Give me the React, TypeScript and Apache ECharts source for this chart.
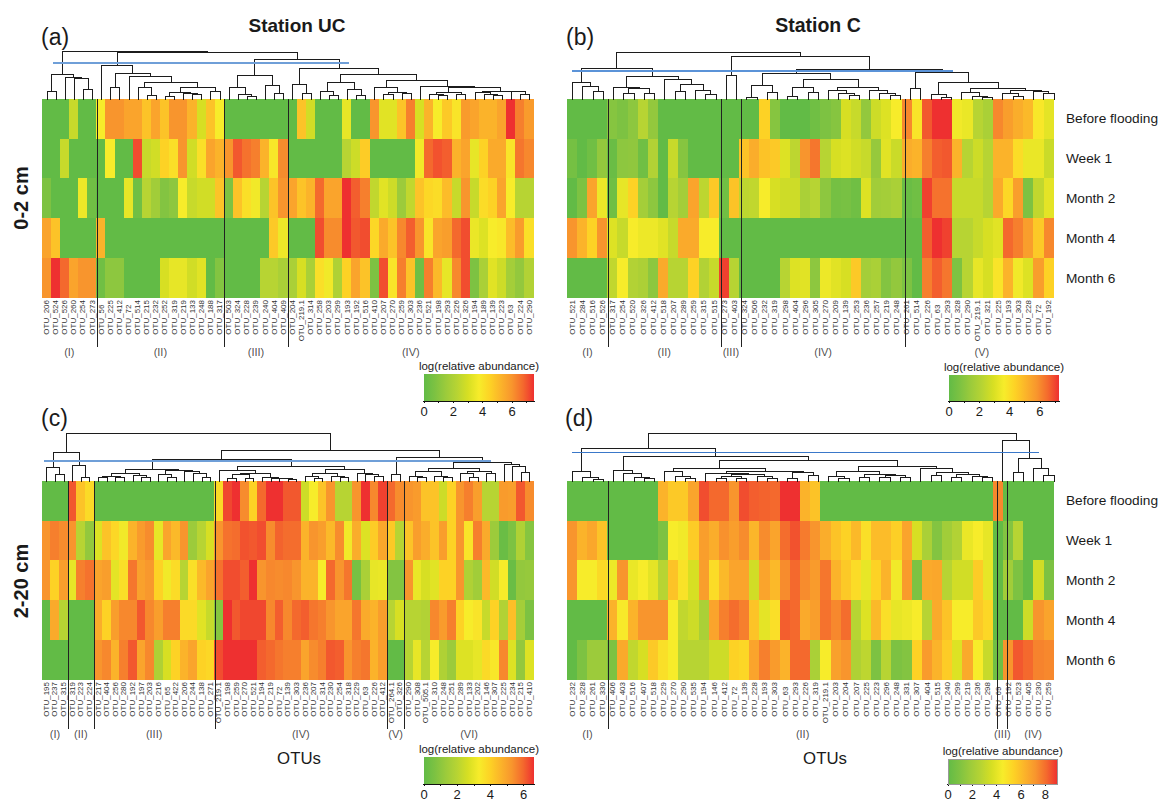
import React, { useEffect, useRef } from "react";
import * as echarts from "echarts";

const FONT = '"Liberation Sans", Arial, sans-serif';
const rows = ["Before flooding", "Week 1", "Month 2", "Month 4", "Month 6"];
const palette = ["#62bb46", "#7dc242", "#9ccb3b", "#b7d433", "#d7df23", "#f7ec2a", "#fdd225", "#fbb32a", "#f8952d", "#f4692d", "#ee3030"];

// ---- Panel (a) ----
const aOtus = ["206","524","526","260","254","273","56","225","412","72","514","215","232","252","319","219","133","248","188","317","503","324","228","239","240","404","409","204","219.1","314","258","203","299","193","192","516","410","207","270","259","303","236","521","198","293","226","326","194","189","139","223","63","224","290"];
const aClusters: [string, number][] = [["(I)", 6], ["(II)", 14], ["(III)", 7], ["(IV)", 27]];
// colour level per OTU for the five rows, 0 (green) .. 10 (red) of the colour bar
const aLevels = [
[0,0,1,7.5,8],[0,0,0,6.5,10],[0,3.5,0,0,9],[3.5,0,0,0,7.5],[0,0,4.7,0,8],[0,0,0.5,0,8],
[5,0,0,7,0.5],[8,5,0,0,1.5],[8,0,0,0,1.5],[7.5,0,4.5,0,0],[7.5,9.5,0.5,0,0],[6.5,3.5,3,0,0],[7.5,3.8,2.2,0,0],[6.5,6,1.2,0,4],[8,5.5,1.5,0,4.5],[8,8,5,0,4.5],[7,3.8,3.5,0,3.8],[4,5.5,3.8,0,4.3],[6.5,7.5,3.8,0,0],[5,7,6.5,0,1.2],
[0,8,1,0,0],[0,9.3,6.5,0,0],[0,8.8,5.5,0,0],[0,8.5,4.8,0,0],[0,7,3,0,3],[0,5.2,6.5,6.3,3],[0,8.2,8,4.7,2.5],
[0,0,7.5,0,2.5],[6.5,0,6.5,0,4],[3.8,0,7,0,2.5],[0,0,9,9.5,5.5],[0,0,7.5,8.2,4.8],[0,0,7.5,8.2,2.7],[4.5,3,10,10,6],[0,3.7,9.2,9.3,7.5],[0,6.2,8.5,9.5,6.5],[8,0,3.3,5.8,1],[4.3,0,4.3,7.3,9.5],[4.3,0,3.7,6.5,5.3],[6.5,0,2,8.3,8.5],[8.5,0,3.3,9.2,6.5],[4,4.8,6.5,8,0.5],[7,9,5.8,5.3,8.5],[5,9.4,5.6,7.5,6.8],[6.3,9.2,6.7,7.7,4.5],[5.3,7,3.5,9,8.3],[7.8,7.5,8,9.5,9.5],[7.5,4.5,3.5,4.6,1],[7,6,5.6,4.2,2.5],[7,7.3,6,5,4.3],[7.5,7.3,7.5,5.2,3.7],[10,5.3,5,6.7,2.3],[8.5,8.7,3,7.8,1.7],[7.8,8.3,3,5.5,2.8],
];
const aTree = [48,
  [25,[8,0,0],[22,0,[21,0,[10,0,0]]]],
  [47,
    [34,0,[26,[12,0,0],[23,0,[17,[12,0,[4,0,0]],[12,[7,[3,0,0],[6,0,[5,0,0]]],[8,0,0]]]]]],
    [40,
      [24,[12,0,[5,0,[3,0,0]]],[14,0,[6,0,0]]],
      [31,[15,0,[6,0,0]],[25,[17,[8,0,[4,0,0]],[10,0,[4,0,0]]],[19,[12,0,[7,[5,0,0],[6,0,0]]],[13,0,[12,[7.5,[5,0,[4,0,0]],[5,0,0]],[8.5,[7,0,[5.5,0,[4,0,0]]],[8,0,[5,0,0]]]]]]]],
    ],
  ],
];

// ---- Panel (b) ----
const bOtus = ["521","284","516","526","317","254","520","326","412","518","207","289","259","315","515","273","403","324","506","232","319","298","404","296","305","270","209","139","253","236","257","219","248","261","514","226","63","293","328","290","219.1","321","225","193","303","228","72","192"];
const bClusters: [string, number][] = [["(I)", 4], ["(II)", 11], ["(III)", 2], ["(IV)", 16], ["(V)", 15]];
const bLevels = [
[0,0.7,0,8,0],[0,0,1,7,0],[0,0.5,7.5,6,0],[0,1.7,4.7,8,0],
[1.3,0.3,0.5,4.2,3.3],[1,1.5,4.5,3.5,5],[1.5,1.6,6,5,2.8],[3,0.5,2.3,4.7,2.6],[1.7,2.8,1.5,4.7,1.5],[0,0,0,4.3,7.3],[0,3.5,3,3.5,3],[0,1.3,2.3,7.3,3],[0,0,7.5,7.3,6],[0,0,3.2,5,2.8],[0,0,6.3,5,3.5],
[0,0,0.5,0,9.7],[0,0,6.5,0,3],
[0,6.5,3.2,0,0],[0,7.2,3.3,0,0],[6,6.5,5,0,0],[1.3,6.3,4,0,0],[0,4.2,3.7,0,3],[0,3.2,3.7,0,4.2],[0,8,2.5,0,4.3],[0.5,8.7,3,0,1.5],[1,3,1.5,0,4.7],[1.3,4,0.7,0,4.3],[4,4.2,0.8,0,4],[3.5,3.8,0.5,0,6.3],[1.7,3.5,4.2,0,2.3],[3.7,1.8,2.2,0,2.5],[4.2,4.3,2.3,0,1.2],[5,3.6,2.5,0,1.7],
[8.3,7.2,0.3,0,1],[5.3,7,0.5,0,0],[9.3,8.5,9.7,9.2,8.5],[10,9.2,8.8,10,9.2],[10,9.3,8.8,9.7,8.7],[4.8,7,3.5,3,1],[4.6,3,3.5,3,3],[3,3.7,3.5,3.5,4.5],[2.5,3,3,4,4],[8.3,7,7.3,4.3,5.3],[7.7,7,5.8,9,7],[7.2,5.6,7.7,8.5,4.8],[6.8,4.6,1,7.7,4.2],[5.2,4.6,3.3,6.3,7.7],[4.4,3.6,4.4,8.3,6],
];
const bTree = [47,
  [31,[17,0,[13,0,[8,0,0]]],[23,[12,0,[11,[6,0,0],[6,0,0]]],[20,0,[15,[8,0,0],[9,0,[5,0,0]]]]]],
  [43,
    [24,0,0],
    [30,
      [25.7,[14,[2.5,0,0],[7,0,0]],[20,[12,[3.5,0,0],[7,0,0]],[12.5,[9,0,[6,0,[4,0,0]]],[9,0,[6.5,0,[4,0,0]]]]]],
      [27,[11,0,0],[17,[5,0,[2.5,0,0]],[11.5,[7.5,0,[3.5,0,[2.5,0,0]]],[9,[6,0,[3.5,0,0]],[8,0,[6,0,0]]]]]],
    ],
  ],
];

// ---- Panel (c) ----
const cOtus = ["195","237","315","319","223","224","217","404","256","280","192","197","203","216","65","422","206","244","138","271","219.1","198","259","270","521","194","219","72","139","303","236","207","314","230","254","318","229","63","226","412","264.1","326","290","308","505.1","310","248","251","289","133","202","146","307","225","234","215","410"];
const cClusters: [string, number][] = [["(I)", 3], ["(II)", 3], ["(III)", 14], ["(IV)", 20], ["(V)", 2], ["(VI)", 15]];
const cLevels = [
[0,8,8,0,0],[0,8.5,6,7.3,0],[0,8.2,7.7,3,0],
[9.3,8,4.5,0,0],[6.5,3,8.5,0,0],[5.7,1.7,8.8,0,0],
[0,4.2,7.5,7.2,8],[0,6.5,7.7,6,8.3],[0,5.8,4.4,7.7,7],[0,4.8,5.5,8.3,8.5],[0,7,8.7,8.3,9.3],[0,7.8,7.6,9.3,7.5],[0,8.2,7.9,8.3,8.3],[0,4.5,6,7.7,2.7],[0,7.5,4.8,8.5,4],[0,6.8,5.6,8.5,6],[0,8,3,5.7,7],[0,2,5.5,5.7,7.5],[0,3,6.8,4.3,6],[0,4,7.5,3.5,5.8],
[5.7,8,8.8,1.3,9.5],[9.6,8.8,9.5,10,10],[10,8.9,9.5,9.3,10],[8.2,9.4,9.2,9.6,10],[6,9.3,10,9.6,10],[9,9.5,8,9.6,9.2],[10,8.2,8.3,8.3,9],[10,9.1,8.2,9.2,8.7],[9.3,8.9,8.3,8.3,8.5],[9.3,8.9,8,9,8.5],[3.7,7,7,9.2,7.5],[5,8,7,8.7,8.2],[6.5,7.7,5,8.5,8.5],[8,6.8,9,8,9.3],[3,8.2,8,7.5,9.2],[3,4.8,8.7,7.5,8],[8,7.2,0.8,8.7,8.5],[10,4.2,2.5,7.3,8.7],[8.3,6.2,4.5,7,7],[9.7,7.4,4.6,7.7,7.7],
[9,6.3,1.2,3,0],[8.2,3,1.2,4,0],
[8,6.5,8,3,3],[7.8,7.7,4.6,3,4.5],[6.5,7.2,4,2.8,3],[6.5,6.5,4.3,8.3,5],[3.7,7.7,6,7.8,2.7],[6,6,6,8.5,2],[8,8,8,6,4.2],[8.5,5.3,2.7,5,4.2],[7.7,8.5,2.2,5.3,4.5],[3,7.3,6.8,3.5,5.7],[3,2,3.8,6,5.2],[7.8,0.3,5,2.8,8.3],[7.7,1,0.3,6.6,4.2],[9.3,2.7,1.7,2.3,1.7],[8.2,1.3,1.8,1,4.2],
];
const cTree = [47.7,
  [29,[14,0,[6.7,0,0]],[16,0,[3.7,0,0]]],
  [31,
    [22,
      [12,[8,[5,[3.7,0,0],[4.3,0,0]],[6,0,[4.3,0,0]]],[11,[7,0,[3.7,0,0]],[10,0,[7.7,0,[3.7,0,0]]]]],
      [15.3,[11,0,[8.3,[6.7,[3.3,0,0],[3.3,0,0]],[4.3,0,[3.3,0,[2.7,0,[2,0,0]]]]]],[11.7,[7.7,[5,0,[3.3,0,0]],[5,0,[4.3,0,0]]],[8.3,0,[7,0,[5,0,0]]]]],
    ],
    [23.7,
      [7,0,0],
      [19,[12.7,[10,[5,0,[3.7,0,0]],[5,0,[4.3,0,0]]],[10,[7.7,0,[4.3,0,0]],[7.7,0,0]]],[17,0,[15,0,[8.7,0,0]]]],
    ],
  ],
];

// ---- Panel (d) ----
const dOtus = ["232","328","261","330","406","403","516","407","518","229","270","290","535","194","146","412","72","139","228","193","303","63","293","226","319","219.1","203","204","207","225","223","296","248","331","307","404","515","240","299","219","236","298","69","192","523","405","230","259"];
const dClusters: [string, number][] = [["(I)", 4], ["(II)", 38], ["(III)", 1], ["(IV)", 5]];
const dLevels = [
[0,8,8,0,0],[0,7,5,0,1],[0,7.4,5,0,2],[0,6.5,5.7,0,2],
[0,0,4.7,7,1],[0,0,8,5.1,7.3],[0,0,4.6,7,3.3],[0,0,5,8,4],[0,0,4.4,8,6.3],[7,1,3,8,5.5],[6.3,5,6.5,5,5],[6.3,4.8,5.4,3.3,3],[7.5,6.2,4,3.7,3],[9.5,7.7,7.7,2.5,3],[9,7.2,5.6,7.5,3.7],[9,8.1,6.8,8.5,3.7],[8,7.7,7.5,8.9,6],[9.5,8.2,7.5,8.5,5.8],[9.2,6.9,3.8,6.5,7.5],[9.1,8.2,7.5,4.4,8.5],[9,7.5,6.8,5.5,7.8],[10,8.9,8.2,9.2,7],[10,9.4,9,9,9],[7,8.6,8.2,7.3,9],[6.5,8,7.8,7.7,2.5],
[0,7.2,8.7,8.8,5],[0,6.5,7,8.3,7.6],[0,6,6.3,8.9,8],[0,6.8,5.6,3,2.7],[0,5.5,4.5,4.2,3.2],[0,6.7,6,6.8,1],[0,6.7,7,5.5,3],[0,6.1,4.8,4.5,1],[0,7.5,7.8,4.7,1.2],[0,4,1,5,6],[0,2.5,7.3,3,7.8],[0,1.2,7.4,7.3,7],[0,2.2,3,6.5,6.2],[0,2.8,3.8,5,4.2],[0,4.6,3.8,5,7.3],[0,5,6.2,6.3,5],[0,4.5,4.5,5.8,3.5],
[8.3,0,0,0,0.5],
[0,1.2,2.2,0,8],[0,3,1,0,9.3],[0,0,0,3.7,9],[0,0,3.8,8,8.4],[0,0,1,7.5,8.3],
];
const dTree = [47.7,
  [32.7,
    [10.3,0,[4.3,0,[2.3,0,0]]],
    [25,
      [11,0,[7.7,0,[4.3,0,[3.3,0,0]]]],
      [21,
        [13.3,[10,0,[5.3,0,[3.3,0,0]]],[10,[7.7,0,[7,[5.5,[3,0,0],[3.5,0,0]],[5,0,[3,0,0]]]],[9,[3.3,0,0],[5.7,0,0]]]],
        [15,[10.3,[5.3,0,[2.7,0,0]],[7,[4.3,0,0],[6,[3.7,0,0],[4.3,0,0]]]],[12.7,0,[8.7,[5.7,0,0],[7,[4.3,0,0],[5,0,[3.7,0,0]]]]]],
      ],
    ],
  ],
  [41,0,[22.7,[8.7,0,0],[13.3,0,[6,0,0]]]],
];

// colour-bar ranges and cut-lines [from leaf, to leaf, height]
const barMax = [7.5, 7.27, 6.62, 9];
const cuts = [[0.675, 33.18, 36], [0.02, 37.17, 28], [-0.27, 51.6, 20.3], [-0.04, 45.6, 28.7]];

const panels = [
  { otus: aOtus, levels: aLevels, clusters: aClusters, tree: aTree, left: 42, top: 99, cutColor: "#6f9fd8", cutWidth: 2, bar: { x: 424, y: 374, w: 110, h: 27, border: false }, rowLabels: false },
  { otus: bOtus, levels: bLevels, clusters: bClusters, tree: bTree, left: 567, top: 99, cutColor: "#5b93d8", cutWidth: 2, bar: { x: 949, y: 375, w: 110, h: 26, border: false }, rowLabels: true },
  { otus: cOtus, levels: cLevels, clusters: cClusters, tree: cTree, left: 42, top: 481, cutColor: "#6f9fd8", cutWidth: 2, bar: { x: 424, y: 757, w: 110, h: 27, border: false }, rowLabels: false },
  { otus: dOtus, levels: dLevels, clusters: dClusters, tree: dTree, left: 567, top: 481, cutColor: "#3a78c9", cutWidth: 1, bar: { x: 948, y: 759, w: 109.5, h: 27, border: true }, rowLabels: true },
];

const PANEL_W = 491.7;
const HEAT_H = 199;
const DENDRO_H = 60; // units above the heat map (y value 0 = heat-map top)
const BELOW = 262;
const SEP_DEPTH = 248;
const LABEL_DEPTH = 253;

// snap a pixel position so a line of width w covers whole pixels
const snap = (v: number, w = 1) => (w % 2 ? Math.round(v) + 0.5 : Math.round(v));

function layoutTree(tree: any) {
  const segs: number[][] = [];
  let leaf = 0;
  const walk = (n: any): { x: number; h: number } => {
    if (n === 0) return { x: leaf++, h: 0 };
    const a = walk(n[1]);
    const b = walk(n[2]);
    segs.push([a.x, a.h, b.x, b.h, n[0]]);
    return { x: (a.x + b.x) / 2, h: n[0] };
  };
  walk(tree);
  return segs;
}

function buildOption() {
  const grid: any[] = [];
  const xAxis: any[] = [];
  const yAxis: any[] = [];
  const series: any[] = [];
  const visualMap: any[] = [];
  const graphic: any[] = [];

  const txt = (text: string, x: number, y: number, font: string, align = "center", rotation = 0, fill = "#1a1a1a") =>
    graphic.push({ type: "text", x, y, rotation, silent: true, z: 20, style: { text, font, fill, textAlign: align, textVerticalAlign: "middle" } });

  panels.forEach((p, k) => {
    const n = p.otus.length;
    const M = barMax[k];
    const base = k * 3;

    // heat map
    grid.push({ left: p.left, top: p.top, width: PANEL_W, height: HEAT_H });
    xAxis.push({
      type: "category", gridIndex: base, data: p.otus.map((o) => "OTU_" + o),
      axisLine: { show: false }, axisTick: { show: false }, splitLine: { show: false },
      axisLabel: {
        interval: 0, rotate: 90, fontSize: 8, fontFamily: FONT, color: "#333", margin: 2, hideOverlap: false,
        formatter: (v: string) => (/^OTU_\d\d$/.test(v) ? `{s|${v}}` : v),
        rich: { s: { fontSize: 8, fontFamily: FONT, color: "#333", padding: [0, 4.5, 0, 0] } },
      },
    });
    yAxis.push({
      type: "category", gridIndex: base, data: rows, inverse: true, position: "right",
      axisLine: { show: false }, axisTick: { show: false }, splitLine: { show: false },
      axisLabel: { show: p.rowLabels, fontSize: 13.7, fontFamily: FONT, color: "#1a1a1a", margin: 12 },
    });
    const cells: number[][] = [];
    p.levels.forEach((col, x) => col.forEach((lv, y) => cells.push([x, y, (lv * M) / 10])));
    series.push({
      type: "heatmap", xAxisIndex: base, yAxisIndex: base, data: cells, z: 1,
      emphasis: { disabled: true }, progressive: 0, itemStyle: { borderWidth: 0 },
    });
    visualMap.push({ show: false, type: "continuous", min: 0, max: M, seriesIndex: series.length - 1, dimension: 2, inRange: { color: palette } });

    // overlay: dendrogram, cut-line, separators, cluster labels
    grid.push({ left: p.left, top: p.top - DENDRO_H, width: PANEL_W, height: DENDRO_H + BELOW });
    xAxis.push({ type: "value", gridIndex: base + 1, min: -0.5, max: n - 0.5, show: false });
    yAxis.push({ type: "value", gridIndex: base + 1, min: -BELOW, max: DENDRO_H, show: false });

    series.push({
      type: "custom", xAxisIndex: base + 1, yAxisIndex: base + 1, z: 3, silent: true, clip: false,
      data: layoutTree(p.tree), encode: { x: [0, 2], y: [1, 3, 4] },
      renderItem: (_: any, api: any) => ({
        type: "polyline",
        shape: {
          points: [
            [api.value(0), api.value(1)],
            [api.value(0), api.value(4)],
            [api.value(2), api.value(4)],
            [api.value(2), api.value(3)],
          ].map((d) => {
            const c = api.coord(d);
            return [snap(c[0]), snap(c[1])];
          }),
        },
        style: { stroke: "#1c1c1c", fill: "none", lineWidth: 1 },
      }),
    });
    const cut = cuts[k];
    series.push({
      type: "custom", xAxisIndex: base + 1, yAxisIndex: base + 1, z: 4, silent: true, clip: false,
      data: [[cut[0], cut[2], cut[1], cut[2]]], encode: { x: [0, 2], y: [1, 3] },
      renderItem: (_: any, api: any) => {
        const a = api.coord([api.value(0), api.value(1)]);
        const b = api.coord([api.value(2), api.value(3)]);
        const y = snap(a[1], p.cutWidth);
        return { type: "line", shape: { x1: a[0], y1: y, x2: b[0], y2: y }, style: { stroke: p.cutColor, lineWidth: p.cutWidth } };
      },
    });
    let acc = 0;
    const seps: number[][] = [];
    const names: any[] = [];
    p.clusters.forEach(([name, size], i) => {
      names.push({ name, value: [acc + size / 2 - 0.5, -LABEL_DEPTH] });
      acc += size;
      if (i < p.clusters.length - 1) seps.push([acc - 0.5, 0, acc - 0.5, -SEP_DEPTH]);
    });
    series.push({
      type: "custom", xAxisIndex: base + 1, yAxisIndex: base + 1, z: 5, silent: true, clip: false,
      data: seps, encode: { x: [0, 2], y: [1, 3] },
      renderItem: (_: any, api: any) => {
        const a = api.coord([api.value(0), api.value(1)]);
        const b = api.coord([api.value(2), api.value(3)]);
        const x = snap(a[0]);
        return { type: "line", shape: { x1: x, y1: a[1], x2: x, y2: b[1] }, style: { stroke: "#222", lineWidth: 1 } };
      },
    });
    series.push({
      type: "scatter", xAxisIndex: base + 1, yAxisIndex: base + 1, z: 5, silent: true, symbolSize: 1,
      itemStyle: { color: "transparent" }, data: names,
      label: { show: true, position: "inside", formatter: "{b}", fontSize: 11, fontFamily: FONT, color: "#222", textBorderWidth: 0, textBorderColor: "transparent" },
    });

    // colour bar
    const b = p.bar;
    grid.push({ left: b.x, top: b.y, width: b.w, height: b.h });
    xAxis.push({
      type: "value", gridIndex: base + 2, min: 0, max: M, interval: 1, splitLine: { show: false },
      axisLine: { show: true, onZero: false, lineStyle: { color: "#111", width: 1.2 } },
      axisTick: { show: true, length: 2, lineStyle: { color: "#111" } },
      axisLabel: {
        fontSize: 13, fontFamily: FONT, color: "#1a1a1a", margin: 4, showMaxLabel: false,
        formatter: (v: number) => (v % 2 === 0 ? String(v) : ""),
      },
    });
    yAxis.push({ type: "value", gridIndex: base + 2, min: 0, max: 1, show: false });
    series.push({
      type: "custom", xAxisIndex: base + 2, yAxisIndex: base + 2, z: 1, silent: true, clip: false,
      data: [[0, 1, M, 0]], encode: { x: [0, 2], y: [1, 3] },
      renderItem: (_: any, api: any) => {
        const a = api.coord([api.value(0), api.value(1)]);
        const c = api.coord([api.value(2), api.value(3)]);
        return {
          type: "rect",
          shape: { x: a[0], y: a[1], width: c[0] - a[0], height: c[1] - a[1] },
          style: {
            fill: new echarts.graphic.LinearGradient(0, 0, 1, 0, palette.map((color, i) => ({ offset: i / (palette.length - 1), color }))),
            stroke: b.border ? "#999" : "none",
            lineWidth: b.border ? 1 : 0,
          },
        };
      },
    });
    txt("log(relative abundance)", b.x + b.w / 2, b.y - 8.5, `11.5px ${FONT}`);
  });

  txt("Station UC", 297, 25, `bold 19px ${FONT}`);
  txt("Station C", 818, 25, `bold 19.5px ${FONT}`);
  txt("(a)", 41, 37, `23px ${FONT}`, "left");
  txt("(b)", 566, 37, `23px ${FONT}`, "left");
  txt("(c)", 41, 418, `23px ${FONT}`, "left");
  txt("(d)", 565, 418, `23px ${FONT}`, "left");
  txt("0-2 cm", 21, 198, `bold 20px ${FONT}`, "center", Math.PI / 2);
  txt("2-20 cm", 21, 581, `bold 20px ${FONT}`, "center", Math.PI / 2);
  txt("OTUs", 299, 758, `16.8px ${FONT}`);
  txt("OTUs", 825, 758, `16.8px ${FONT}`);

  return { animation: false, backgroundColor: "#fff", textStyle: { fontFamily: FONT }, grid, xAxis, yAxis, series, visualMap, graphic };
}

export default function App() {
  const ref = useRef<HTMLDivElement>(null);
  useEffect(() => {
    document.body.style.margin = "0";
    const chart = echarts.init(ref.current!, undefined, { renderer: "svg" });
    chart.setOption(buildOption() as any);
    return () => chart.dispose();
  }, []);
  // every mark here is axis-aligned: crisp edges remove the seams between heat-map cells
  return <div ref={ref} style={{ width: 1161, height: 801, shapeRendering: "crispEdges" }} />;
}
